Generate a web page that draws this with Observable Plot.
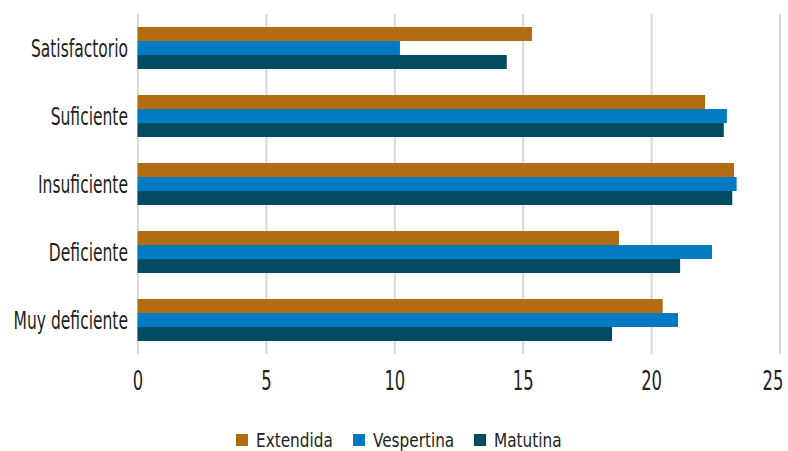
<!DOCTYPE html>
<html>
<head>
<meta charset="utf-8">
<script src="https://cdn.jsdelivr.net/npm/d3@7"></script>
<script src="https://cdn.jsdelivr.net/npm/@observablehq/plot@0.6"></script>
<style>
  html, body { margin: 0; padding: 0; background: #fff; }
  body { width: 788px; height: 451px; overflow: hidden;
    font-family: "DejaVu Sans Condensed", "DejaVu Sans", sans-serif; font-stretch: condensed; color: #231f20; }
  #chart svg { display: block; }
  #legend { display: flex; justify-content: center; align-items: center; gap: 20px; height: 41px; padding-top: 18px; font-size: 20px; padding-left: 10px; box-sizing: border-box; white-space: nowrap; }
  .item { display: flex; align-items: center; gap: 8px; }
  .sw { width: 12px; height: 12px; display: inline-block; }
  .lbl { display: inline-block; overflow: visible; }
  .lbl span { display: inline-block; transform-origin: 0 50%; }
</style>
</head>
<body>
<div id="chart"></div>
<div id="legend"></div>
<script>
const categories = ["Satisfactorio", "Suficiente", "Insuficiente", "Deficiente", "Muy deficiente"];
const seriesNames = ["Extendida", "Vespertina", "Matutina"];
const seriesColors = ["#B06C0E", "#007BC1", "#034A63"];
const extendida = [15.36, 22.10, 23.23, 18.75, 20.45];
const vespertina = [10.22, 22.95, 23.33, 22.37, 21.05];
const matutina = [14.38, 22.83, 23.16, 21.13, 18.48];
const xTicks = [0, 5, 10, 15, 20, 25];

const seriesValues = [extendida, vespertina, matutina];
const W = 788, H = 410, mTop = 14, mBottom = 56;
const padInner = 0.382, padOuter = 0.19;
const step = (H - mTop - mBottom) / (categories.length - padInner + 2 * padOuter);
const bw = step * (1 - padInner);
const third = bw / 3;
const fontFam = '"DejaVu Sans Condensed", "DejaVu Sans", sans-serif';

const marks = [
  Plot.ruleX(xTicks, {stroke: "#d9d9d9", strokeWidth: 2})
];
seriesValues.forEach((vals, i) => {
  const rows = categories.map((c, j) => ({category: c, value: vals[j]}));
  marks.push(Plot.barX(rows, {
    y: "category", x: "value", fill: seriesColors[i],
    insetTop: third * i, insetBottom: third * (2 - i)
  }));
});
marks.push(Plot.axisX({ticks: xTicks, tickSize: 0, tickPadding: 17, fontSize: 26, fill: "#231f20", tickFormat: d => d}));
marks.push(Plot.axisY({tickSize: 0, tickPadding: 10, fontSize: 25, fill: "#231f20"}));

const chart = Plot.plot({
  width: W, height: H,
  marginLeft: 137.5, marginRight: 8.5, marginTop: mTop, marginBottom: mBottom,
  x: {domain: [0, 25], label: null},
  y: {domain: categories, paddingInner: padInner, paddingOuter: padOuter, label: null},
  style: {background: "#fff", color: "#231f20", fontFamily: fontFam, fontStretch: "condensed"},
  marks
});
document.getElementById("chart").appendChild(chart);

// horizontal compression of text to imitate a condensed typeface
function squeeze(sel, factor) {
  chart.querySelectorAll(sel).forEach(t => {
    const len = t.getComputedTextLength();
    t.setAttribute("textLength", len * factor);
    t.setAttribute("lengthAdjust", "spacingAndGlyphs");
  });
}
squeeze('g[aria-label="y-axis tick label"] text', 0.69);
squeeze('g[aria-label="x-axis tick label"] text', 0.70);
const xt = chart.querySelectorAll('g[aria-label="x-axis tick label"] text');
if (xt.length) xt[xt.length - 1].setAttribute("dx", -7);

const legend = document.getElementById("legend");
const legFactor = 0.85;
seriesNames.forEach((n, i) => {
  const it = document.createElement("div");
  it.className = "item";
  const sw = document.createElement("span");
  sw.className = "sw";
  sw.style.background = seriesColors[i];
  const box = document.createElement("span");
  box.className = "lbl";
  const t = document.createElement("span");
  t.textContent = n;
  box.appendChild(t);
  it.appendChild(sw); it.appendChild(box);
  legend.appendChild(it);
  const w = t.getBoundingClientRect().width;
  t.style.transform = `scaleX(${legFactor})`;
  box.style.width = (w * legFactor) + "px";
});
</script>
</body>
</html>
